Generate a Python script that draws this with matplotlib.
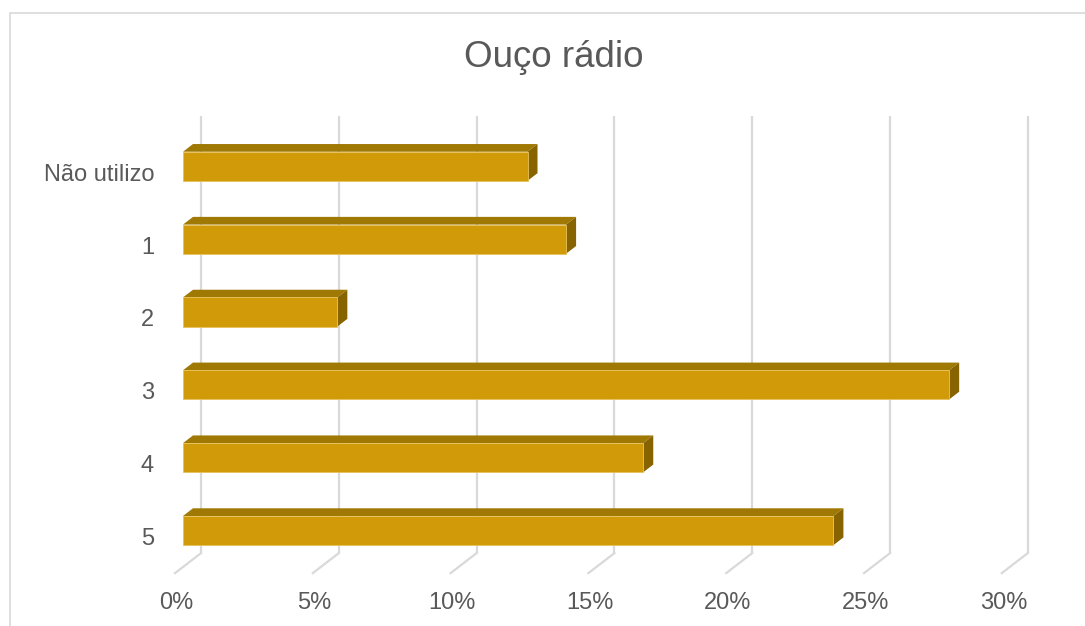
import matplotlib.pyplot as plt
from matplotlib.patches import Polygon, Rectangle

# data (share of answers, %)
categories = ['Não utilizo', '1', '2', '3', '4', '5']
values = [12.5, 13.9, 5.6, 27.8, 16.7, 23.6]
ticks = [0, 5, 10, 15, 20, 25, 30]
tick_labels = ['0%', '5%', '10%', '15%', '20%', '25%', '30%']

plt.rcParams['font.family'] = ['Liberation Sans', 'DejaVu Sans']

W, H = 1085, 626
fig = plt.figure(figsize=(W / 100, H / 100), dpi=100)

# bar front plane geometry (pixels)
x0_px, ppp = 183, 27.56      # px per percent
y0_px, ppc = 166.3, 72.85    # px per category
n = len(categories)
ax = fig.add_axes([x0_px / W, 1 - (y0_px + ppc * (n - 0.5)) / H,
                   30 * ppp / W, ppc * n / H])
ax.set_xlim(0, 30)
ax.set_ylim(n - 0.5, -0.5)
ax.axis('off')


def depth(d):
    # offset for a depth of d pixels (positive = further back)
    return d / ppp, -0.77 * d / ppc


grid_c = '#D9D9D9'
bx, by = depth(18)
fx, fy = depth(-8)
for t in ticks:
    ax.plot([t + bx, t + bx], [-0.5 + by, n - 0.5 + by], color=grid_c, lw=1.6,
            clip_on=False, zorder=1, solid_capstyle='butt')
    ax.plot([t + bx, t + fx], [n - 0.5 + by, n - 0.5 + fy], color=grid_c, lw=1.6,
            clip_on=False, zorder=1)

front_c, top_c, side_c = '#D19A08', '#A07904', '#876400'
bar_h = 0.40
dx, dy = depth(10)
ypos = list(range(n))
ax.barh(ypos, values, height=bar_h, color=front_c, edgecolor='#E6C25A',
        linewidth=0.6, zorder=3)
for y, v in zip(ypos, values):
    top = y - bar_h / 2
    bot = y + bar_h / 2
    ax.add_patch(Polygon([(0, top), (v, top), (v + dx, top + dy), (dx, top + dy)],
                         closed=True, facecolor=top_c, edgecolor='none', zorder=2,
                         clip_on=False))
    ax.add_patch(Polygon([(v, top), (v + dx, top + dy), (v + dx, bot + dy), (v, bot)],
                         closed=True, facecolor=side_c, edgecolor='none', zorder=2,
                         clip_on=False))

txt_c = '#595959'
for t, lab in zip(ticks, tick_labels):
    ax.annotate(lab, (t + fx, n - 0.5 + fy), xytext=(1.5, -36), textcoords='offset pixels',
                ha='center', va='baseline', fontsize=17, color=txt_c, annotation_clip=False)
for y, lab in zip(ypos, categories):
    ax.annotate(lab, (0, y), xytext=(-29, -14.4), textcoords='offset pixels',
                ha='right', va='baseline', fontsize=17, color=txt_c, annotation_clip=False)

fig.text(554 / W, 1 - 66.7 / H, 'Ouço rádio', ha='center', va='baseline',
         fontsize=26.5, color=txt_c)

fig.patches.append(Rectangle((10 / W, -0.1), 1.2, 1.1 - 13 / H, transform=fig.transFigure,
                             fill=False, edgecolor='#D9D9D9', lw=1.2))

fig.savefig('out.png', dpi=100)
